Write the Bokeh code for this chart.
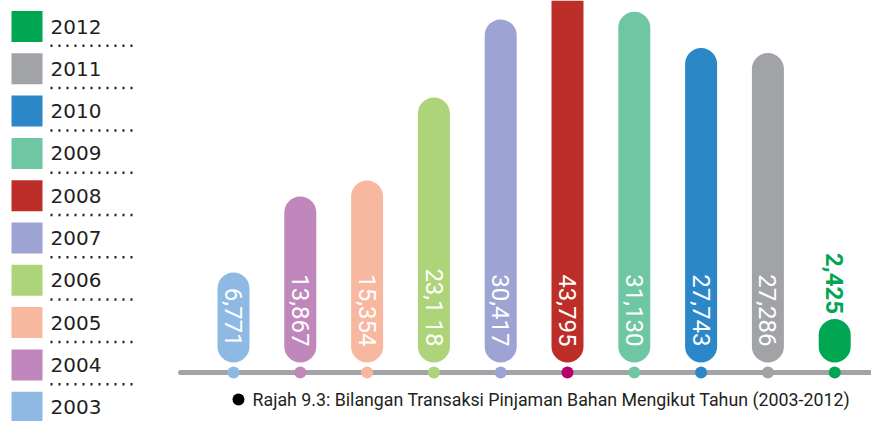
import math
from bokeh.plotting import figure
from bokeh.models import Range1d, ColumnDataSource
from bokeh.core.properties import value
from bokeh.embed import file_html
from bokeh.resources import INLINE

# ---------------- data ----------------
years = ["2003", "2004", "2005", "2006", "2007", "2008", "2009", "2010", "2011", "2012"]
transactions = [6771, 13867, 15354, 23118, 30417, 43795, 31130, 27743, 27286, 2425]
bar_labels = ["6,771", "13,867", "15,354", "23,1 18", "30,417", "43,795", "31,130", "27,743", "27,286", "2,425"]
bar_colors = ["#8db9e3", "#bf87bb", "#f8b8a0", "#aed479", "#9da3d3", "#be2e28", "#6fc6a3", "#2c87c8", "#a2a3a6", "#00a652"]
dot_colors = ["#8db9e3", "#bf87bb", "#f8b8a0", "#aed479", "#9da3d3", "#b5006c", "#6fc6a3", "#2c87c8", "#a2a3a6", "#00a652"]
caption = "Rajah 9.3: Bilangan Transaksi Pinjaman Bahan Mengikut Tahun (2003-2012)"

# ---------------- layout constants (page pixels) ----------------
W, H = 871, 421
OFF = 0                              # page offset of the figure
X0_PX, DX_PX = 233.0, 66.8          # first bar centre, bar spacing
BASE_PX = 362.0                      # bottom of the pills
PX_PER_UNIT = 0.0107                 # vertical scale
PAD_UNITS = 17.6 / PX_PER_UNIT       # extra pill length (rounded cap)


def xd(px):
    return (px - X0_PX) / DX_PX


def yd(py):
    return (BASE_PX - py) / PX_PER_UNIT


y_top = yd(OFF)
p = figure(width=W, height=H,
           x_range=Range1d(xd(OFF), xd(OFF + W)),
           y_range=Range1d(yd(OFF + H), y_top),
           output_backend="svg", toolbar_location=None,
           x_axis_type=None, y_axis_type=None,
           min_border=0, outline_line_color=None,
           background_fill_color="white", border_fill_color="white")

idx = list(range(len(years)))

# baseline
p.segment(x0=[xd(180)], y0=[yd(372)], x1=[xd(890)], y1=[yd(372)],
          line_color="#a3a3a5", line_width=5, line_cap="round")

# pills: fully visible ones get rounded ends, those running off the top only a rounded bottom
tops = [v + PAD_UNITS for v in transactions]
vis = [i for i in idx if tops[i] <= y_top]
cut = [i for i in idx if tops[i] > y_top]
p.vbar(x=vis, bottom=0, top=[tops[i] for i in vis], width=32 / DX_PX,
       fill_color=[bar_colors[i] for i in vis], line_color=None, border_radius=16)
p.vbar(x=cut, bottom=0, top=[y_top + 1000 for i in cut], width=32 / DX_PX,
       fill_color=[bar_colors[i] for i in cut], line_color=None,
       border_radius=(0, 0, 16, 16))

# dots on baseline
p.scatter(x=idx, y=yd(372), size=12, marker="circle", fill_color=dot_colors,
          line_color=None)

# labels inside pills
inside = [i for i in idx if transactions[i] > 5000]
outside = [i for i in idx if transactions[i] <= 5000]
p.text(x=inside, y=[yd(346)] * len(inside), text=[bar_labels[i] for i in inside],
       angle=-math.pi / 2, text_align="right", text_baseline="middle",
       text_color="white", text_font=value("Roboto"), text_font_size="24px")
p.text(x=outside, y=[tops[i] + 5 / PX_PER_UNIT for i in outside],
       text=[bar_labels[i] for i in outside],
       angle=-math.pi / 2, text_align="right", text_baseline="middle",
       text_color=[bar_colors[i] for i in outside], text_font=value("Roboto"),
       text_font_size="24px", text_font_style="bold")

# legend (2012 at top)
LEG_TOP, LEG_STEP = 26.0, 42.3
leg_years = years[::-1]
leg_colors = bar_colors[::-1]
leg_y = [LEG_TOP + LEG_STEP * k for k in range(len(leg_years))]
p.rect(x=[xd(26.5)] * len(leg_years), y=[yd(v) for v in leg_y],
       width=31, height=31, width_units="screen", height_units="screen",
       fill_color=leg_colors, line_color=None)
p.text(x=[xd(50)] * len(leg_years), y=[yd(v) for v in leg_y], text=leg_years,
       text_align="left", text_baseline="middle", text_color="#231f20",
       text_font=value("DejaVu Sans"), text_font_size="20px")
sep_y = [v + 19.3 for v in leg_y[:-1]]
p.segment(x0=[xd(50)] * len(sep_y), y0=[yd(v) for v in sep_y],
          x1=[xd(137)] * len(sep_y), y1=[yd(v) for v in sep_y],
          line_color="#231f20", line_width=2.5, line_dash=value("2 6"))

# caption
p.scatter(x=[xd(238)], y=[yd(399)], size=12, marker="circle",
          fill_color="black", line_color=None)
p.text(x=[xd(252)], y=[yd(399)], text=[caption], text_align="left",
       text_baseline="middle", text_color="#231f20",
       text_font=value("Roboto"), text_font_size="17.8px")

open("out.html", "w").write(file_html(p, INLINE))
